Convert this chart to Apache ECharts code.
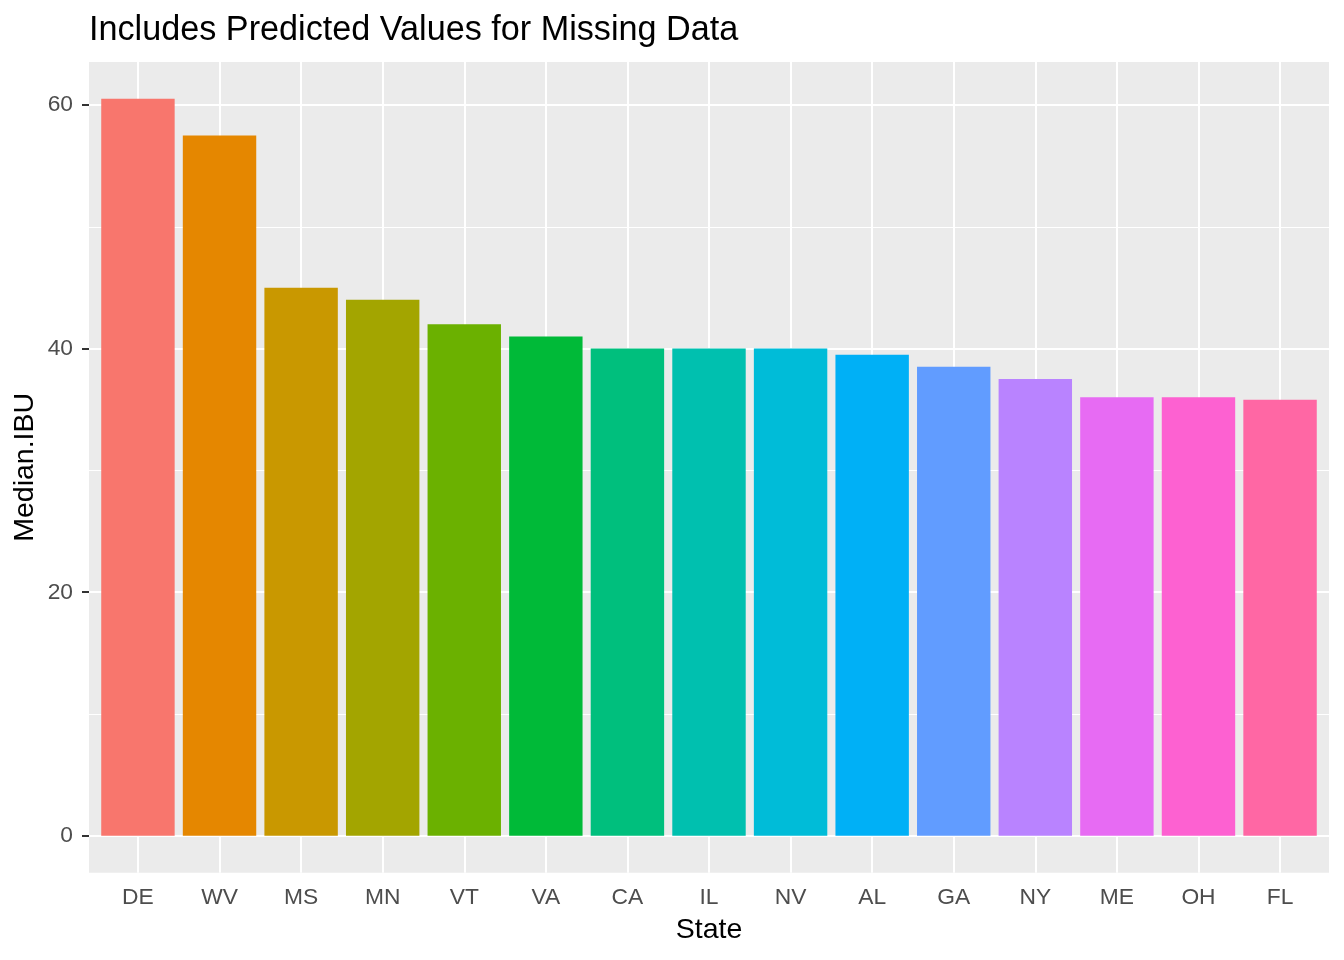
<!DOCTYPE html>
<html>
<head>
    <meta charset="utf-8">
    <title>Median IBU by State</title>
    <script type="text/javascript" src="https://cdn.jsdelivr.net/npm/echarts@6/dist/echarts.min.js"></script>
</head>
<body style="margin:0">
<div id="main" style="width:1344px;height:960px;"></div>
<script type="text/javascript">
    // data
    var states = ['DE', 'WV', 'MS', 'MN', 'VT', 'VA', 'CA', 'IL', 'NV', 'AL', 'GA', 'NY', 'ME', 'OH', 'FL'];
    var medianIBU = [60.5, 57.5, 45, 44, 42, 41, 40, 40, 40, 39.5, 38.5, 37.5, 36, 36, 35.8];
    var hueColors = ['#F8766D', '#E58700', '#C99800', '#A3A500', '#6BB100', '#00BA38', '#00BF7D', '#00C0AF',
        '#00BCD8', '#00B0F6', '#619CFF', '#B983FF', '#E76BF3', '#FD61D1', '#FF67A4'];
    var yTicks = [0, 20, 40, 60];

    var font = 'Liberation Sans, Arial, sans-serif';
    var W = 1344, H = 960;
    // panel box (ggplot style grey panel)
    var pL = 89, pR = 1329, pT = 62, pB = 872.7;

    // ggplot expansion: 5% on a continuous axis, 0.6 unit on a discrete one
    var vMax = Math.max.apply(null, medianIBU);
    var yLo = -0.05 * vMax, yHi = vMax * 1.05;
    var pxY = (pB - pT) / (yHi - yLo);
    var yTop = pT + (yHi - yTicks[yTicks.length - 1]) * pxY;
    var yZero = pT + (yHi - yTicks[0]) * pxY;
    var unitX = (pR - pL) / (states.length + 0.2);

    var myChart = echarts.init(document.getElementById('main'));
    var option = {
        animation: false,
        backgroundColor: '#ffffff',
        title: {
            text: 'Includes Predicted Values for Missing Data',
            left: pL, top: 14, padding: 0,
            textStyle: {fontSize: 34.2, fontWeight: 'normal', color: '#000', fontFamily: font}
        },
        grid: [
            // panel background
            {left: pL, right: W - pR, top: pT, bottom: H - pB, show: true, backgroundColor: '#EBEBEB',
                borderWidth: 0, outerBoundsMode: 'none'},
            // horizontal grid lines and y labels
            {left: pL, right: W - pR, top: yTop, bottom: H - yZero, outerBoundsMode: 'none'},
            // bars and categories
            {left: pL + 0.1 * unitX, right: W - pR + 0.1 * unitX, top: pT, bottom: H - pB, outerBoundsMode: 'none'},
            // vertical grid lines, first to last category centre
            {left: pL + 0.6 * unitX, right: W - pR + 0.6 * unitX, top: pT, bottom: H - pB, outerBoundsMode: 'none'}
        ],
        xAxis: [
            {gridIndex: 0, type: 'value', show: false},
            {gridIndex: 1, type: 'value', show: false},
            {
                gridIndex: 2, type: 'category', data: states, position: 'bottom',
                axisLine: {show: false},
                axisTick: {alignWithLabel: true, length: 7, lineStyle: {color: '#333333', width: 2}},
                axisLabel: {margin: 14, color: '#4D4D4D', fontSize: 22.8, fontFamily: font},
                splitLine: {show: false},
                name: 'State', nameLocation: 'middle', nameGap: 43,
                nameTextStyle: {fontSize: 28.5, color: '#000', fontFamily: font}
            },
            {
                gridIndex: 3, type: 'value', min: 0, max: states.length - 1, interval: 1,
                axisLine: {show: false}, axisTick: {show: false}, axisLabel: {show: false},
                splitLine: {show: true, lineStyle: {color: '#ffffff', width: 2}}
            }
        ],
        yAxis: [
            {
                gridIndex: 0, type: 'value',
                axisLine: {show: false}, axisTick: {show: false}, axisLabel: {show: false}, splitLine: {show: false},
                name: 'Median.IBU', nameLocation: 'middle', nameRotate: 90, nameGap: 49,
                nameTextStyle: {fontSize: 28.5, color: '#000', fontFamily: font}
            },
            {
                gridIndex: 1, type: 'value',
                min: yTicks[0], max: yTicks[yTicks.length - 1], interval: yTicks[1] - yTicks[0],
                axisLine: {show: false},
                axisTick: {length: 7, lineStyle: {color: '#333333', width: 2}},
                axisLabel: {margin: 16, color: '#4D4D4D', fontSize: 22.8, fontFamily: font, padding: [5, 0, 0, 0]},
                splitLine: {lineStyle: {color: '#ffffff', width: 2}},
                minorTick: {show: false, splitNumber: 2},
                minorSplitLine: {show: true, lineStyle: {color: '#ffffff', width: 1}}
            },
            {gridIndex: 2, type: 'value', min: yLo, max: yHi, show: false},
            {gridIndex: 3, type: 'value', show: false}
        ],
        series: [{
            type: 'bar',
            xAxisIndex: 2,
            yAxisIndex: 2,
            colorBy: 'data',
            color: hueColors,
            barCategoryGap: '10%',
            data: medianIBU
        }]
    };
    myChart.setOption(option);
</script>
</body>
</html>
